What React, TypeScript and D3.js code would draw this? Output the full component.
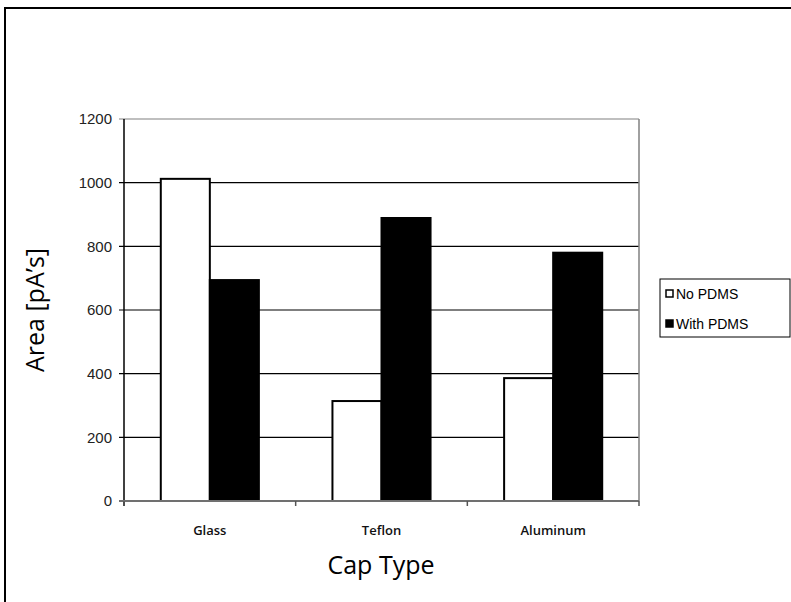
import React from "react";
import * as d3 from "d3";

const categories = ["Glass", "Teflon", "Aluminum"];
const seriesNames = ["No PDMS", "With PDMS"];
const noPdms = [1012, 314, 386];
const withPdms = [694, 889, 780];
const yTicks = [0, 200, 400, 600, 800, 1000, 1200];

const W = 791;
const H = 602;
const plot = { left: 124, right: 639, top: 119, bottom: 501 };

export default function App() {
  const x = d3
    .scaleBand<string>()
    .domain(categories)
    .range([plot.left, plot.right])
    .paddingInner(0)
    .paddingOuter(0);
  const inner = d3
    .scaleBand<string>()
    .domain(seriesNames)
    .range([0, x.bandwidth()])
    .paddingOuter(0.75)
    .paddingInner(0);
  const y = d3.scaleLinear().domain([0, 1200]).range([plot.bottom, plot.top]);

  const series = [
    { name: seriesNames[0], values: noPdms, fill: "#ffffff" },
    { name: seriesNames[1], values: withPdms, fill: "#000000" },
  ];

  const catEdges = [...categories.map((c) => x(c)!), plot.right];

  return (
    <svg
      width={W}
      height={H}
      style={{ position: "absolute", left: 0, top: 0, background: "#fff" }}
    >
      {/* outer chart frame */}
      <rect x={5} y={8} width={W} height={H} fill="#fff" stroke="#000" strokeWidth={2} />

      {/* gridlines */}
      {yTicks.map((t) => (
        <line
          key={t}
          x1={plot.left - 5}
          x2={plot.right}
          y1={y(t)}
          y2={y(t)}
          stroke={t === 1200 ? "#808080" : "#000"}
          strokeWidth={t === 0 ? 0 : 1.2}
        />
      ))}
      {/* right edge of plot area */}
      <line x1={plot.right} x2={plot.right} y1={plot.top} y2={plot.bottom} stroke="#808080" strokeWidth={1.5} />

      {/* bars */}
      {series.map((s) =>
        categories.map((c, i) => (
          <rect
            key={s.name + c}
            x={x(c)! + inner(s.name)!}
            y={y(s.values[i])}
            width={inner.bandwidth()}
            height={y(0) - y(s.values[i])}
            fill={s.fill}
            stroke="#000"
            strokeWidth={2}
          />
        ))
      )}

      {/* axes */}
      <line x1={plot.left} x2={plot.left} y1={plot.top} y2={plot.bottom + 5} stroke="#000" strokeWidth={1.5} />
      <line x1={plot.left - 5} x2={plot.right} y1={plot.bottom} y2={plot.bottom} stroke="#707070" strokeWidth={2} />
      {catEdges.map((e, i) => (
        <line key={i} x1={e} x2={e} y1={plot.bottom} y2={plot.bottom + 5} stroke="#555" strokeWidth={1.5} />
      ))}

      {/* y tick labels */}
      {yTicks.map((t) => (
        <text
          key={t}
          x={112}
          y={y(t)}
          dy="0.35em"
          textAnchor="end"
          fontFamily="Liberation Sans, Arial, sans-serif"
          fontSize={15}
          fill="#222"
        >
          {t}
        </text>
      ))}

      {/* x tick labels */}
      {categories.map((c) => (
        <text
          key={c}
          x={x(c)! + x.bandwidth() / 2}
          y={535}
          textAnchor="middle"
          fontFamily="Open Sans, sans-serif"
          fontSize={13}
          fontWeight={600}
          fill="#111"
        >
          {c}
        </text>
      ))}

      {/* axis titles */}
      <text
        x={381}
        y={574}
        textAnchor="middle"
        fontFamily="Open Sans, sans-serif"
        fontSize={25}
        fill="#000"
      >
        Cap Type
      </text>
      <text
        transform={`translate(44, ${(plot.top + plot.bottom) / 2}) rotate(-90)`}
        textAnchor="middle"
        fontFamily="Open Sans, sans-serif"
        fontSize={25}
        fill="#000"
      >
        Area [pA’s]
      </text>

      {/* legend */}
      <rect x={660} y={279} width={130} height={58} fill="#fff" stroke="#000" strokeWidth={1} />
      {series.map((s, i) => (
        <g key={s.name} transform={`translate(666, ${294 + i * 30})`}>
          <rect x={0} y={-4} width={7} height={7} fill={s.fill} stroke="#000" strokeWidth={1.5} />
          <text
            x={10}
            y={0}
            dy="0.35em"
            fontFamily="Liberation Sans, Arial, sans-serif"
            fontSize={14}
            fill="#000"
          >
            {s.name}
          </text>
        </g>
      ))}
    </svg>
  );
}
